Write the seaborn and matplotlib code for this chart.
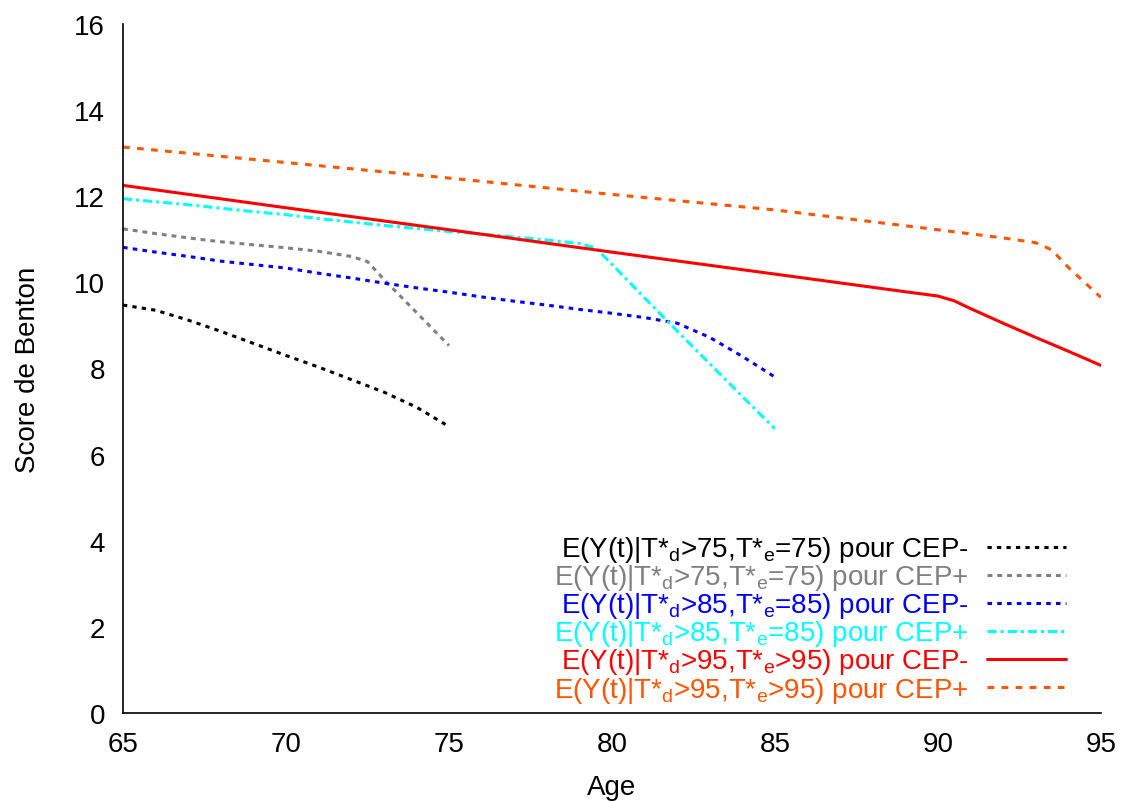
import numpy as np
import pandas as pd
import seaborn as sns
from matplotlib import pyplot as plt

# (ages, score de Benton)
age_75 = [65, 66, 67, 68, 69, 70, 71, 72, 73, 74, 75]
cep_moins_75 = [9.47, 9.35, 9.12, 8.86, 8.58, 8.30, 8.03, 7.74, 7.45, 7.10, 6.65]
age_75p = [65, 66, 67, 68, 69, 70, 71, 72, 72.5, 73, 74, 75]
cep_plus_75 = [11.24, 11.13, 11.03, 10.94, 10.87, 10.80, 10.72, 10.60, 10.48, 10.07, 9.30, 8.53]

age_85 = [65, 66, 67, 68, 69, 70, 71, 72, 73, 74, 75, 76, 77, 78, 79, 80, 81, 82, 83, 84, 85]
cep_moins_85 = [10.81, 10.70, 10.60, 10.49, 10.41, 10.33, 10.21, 10.10, 9.98, 9.87, 9.77,
                9.66, 9.56, 9.47, 9.37, 9.28, 9.18, 9.05, 8.72, 8.28, 7.80]
age_85p = [65, 66, 67, 68, 69, 70, 71, 72, 73, 74, 75, 76, 77, 78, 79, 79.5, 80, 81, 82, 83, 84, 85]
cep_plus_85 = [11.94, 11.87, 11.80, 11.72, 11.64, 11.57, 11.48, 11.40, 11.32, 11.25, 11.18,
               11.12, 11.05, 10.98, 10.90, 10.80, 10.42, 9.64, 8.87, 8.11, 7.35, 6.60]

age_95 = [65, 70, 75, 80, 85, 89, 90, 90.5, 91, 92, 93, 94, 95]
cep_moins_95 = [12.25, 11.73, 11.22, 10.70, 10.19, 9.78, 9.68, 9.57, 9.39, 9.05, 8.72, 8.40, 8.07]
age_95p = [65, 70, 75, 80, 85, 90, 92, 93, 93.5, 94, 95]
cep_plus_95 = [13.14, 12.78, 12.42, 12.04, 11.68, 11.22, 11.03, 10.92, 10.75, 10.35, 9.65]

labels = [r'E(Y(t)|T*$_\mathrm{d}$>75,T*$_\mathrm{e}$=75) pour CEP-',
          r'E(Y(t)|T*$_\mathrm{d}$>75,T*$_\mathrm{e}$=75) pour CEP+',
          r'E(Y(t)|T*$_\mathrm{d}$>85,T*$_\mathrm{e}$=85) pour CEP-',
          r'E(Y(t)|T*$_\mathrm{d}$>85,T*$_\mathrm{e}$=85) pour CEP+',
          r'E(Y(t)|T*$_\mathrm{d}$>95,T*$_\mathrm{e}$>95) pour CEP-',
          r'E(Y(t)|T*$_\mathrm{d}$>95,T*$_\mathrm{e}$>95) pour CEP+']

sns.set_style('white')
plt.rcParams['font.family'] = ['Liberation Sans', 'DejaVu Sans']
plt.rcParams['mathtext.fontset'] = 'custom'
plt.rcParams['mathtext.rm'] = 'Liberation Sans'
plt.rcParams['mathtext.it'] = 'Liberation Sans:italic'
plt.rcParams['text.color'] = 'black'
plt.rcParams['axes.labelcolor'] = 'black'
plt.rcParams['xtick.color'] = 'black'
plt.rcParams['ytick.color'] = 'black'

fig = plt.figure(figsize=(11.29, 8.03), dpi=100)
ax = fig.add_axes([0.109, 0.111, 0.866, 0.858])

series = [
    (age_75, cep_moins_75, 'black', (0, (1.4, 1.7))),
    (age_75p, cep_plus_75, 'grey', (0, (1.6, 1.6))),
    (age_85, cep_moins_85, 'blue', (0, (1.5, 1.7))),
    (age_85p, cep_plus_85, 'cyan', (0, (3, 1.3, 1, 1.3))),
    (age_95, cep_moins_95, 'red', '-'),
    (age_95p, cep_plus_95, '#ff5500', (0, (2.2, 2.4))),
]
for (x, y, c, ls), lab in zip(series, labels):
    df = pd.DataFrame({'age': x, 'score': y})
    sns.lineplot(data=df, x='age', y='score', color=c, linestyle=ls, lw=2.2,
                 label=lab, errorbar=None, ax=ax)

ax.set_xlim(65, 95)
ax.set_ylim(0, 16)
ax.set_xticks(range(65, 96, 5))
ax.set_yticks(range(0, 17, 2))
ax.tick_params(direction='in', length=9, width=1, labelsize=20, pad=13)
for s in ['top', 'right']:
    ax.spines[s].set_visible(False)
for s in ['left', 'bottom']:
    ax.spines[s].set_linewidth(1.2)
    ax.spines[s].set_color('black')
ax.set_xlabel('Age', fontsize=20, labelpad=12)
ax.set_ylabel('Score de Benton', fontsize=20, labelpad=24)

ax.legend(loc='lower right', bbox_to_anchor=(0.970, 0.004), frameon=False, markerfirst=False,
          labelcolor='linecolor', fontsize=20, handlelength=2.85, handletextpad=0.65,
          labelspacing=-0.07, borderpad=0.2, borderaxespad=0)

fig.savefig('out.png', dpi=100)
